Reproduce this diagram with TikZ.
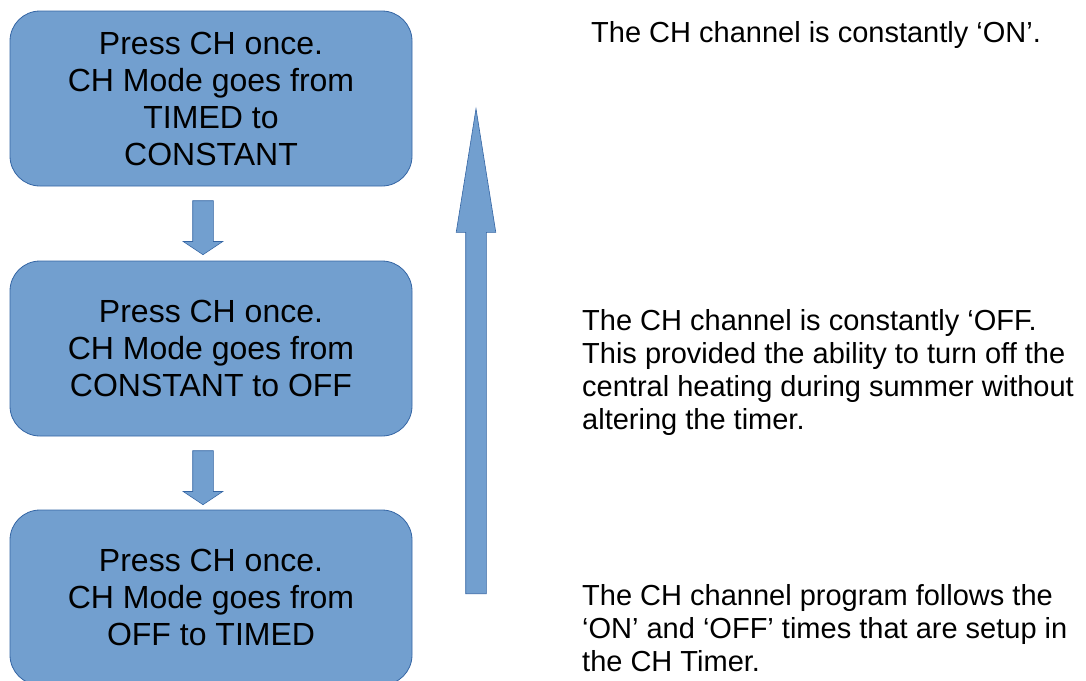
\documentclass[tikz,border=0pt]{standalone}
\usepackage{fontspec}
\setmainfont{Liberation Sans}
\usetikzlibrary{shapes.arrows}
\definecolor{modeFill}{HTML}{729FCF}
\definecolor{modeLine}{HTML}{3465A4}

\begin{document}
\begin{tikzpicture}[x = 1pt, y = -1pt]
\tikzstyle{modeStyle} = [shape = rectangle, rounded corners = 30pt, draw = modeLine, fill = modeFill, line width = 0.8pt, minimum width = 402pt, minimum height = 175pt, align = center, font = \fontsize{32}{37}\selectfont]
\tikzstyle{arrowStyle} = [shape = single arrow, draw = modeLine, fill = modeFill, line width = 0.6pt, inner sep = 0pt, inner ysep = 10pt, minimum width = 0pt, single arrow head extend = 9.5pt, anchor = tail]
\tikzstyle{noteStyle} = [anchor = base west, align = left, inner sep = 0pt, font = \fontsize{29}{33}\selectfont]
\useasboundingbox (0, 0) rectangle (1086, 680);
\node[style = modeStyle] (m0) at (211, 98.5) {Press CH once.\\CH Mode goes from\\TIMED to\\CONSTANT};
\node[style = modeStyle] (m1) at (211, 348.5) {Press CH once.\\CH Mode goes from\\CONSTANT to OFF};
\node[style = modeStyle] (m2) at (211, 597.5) {Press CH once.\\CH Mode goes from\\OFF to TIMED};
\node[style = arrowStyle, rotate = -90, minimum height = 54pt, single arrow tip angle = 112.6] (a0) at ([xshift = -8pt, yshift = -14pt]m0.south) {};
\node[style = arrowStyle, rotate = -90, minimum height = 54pt, single arrow tip angle = 112.6] (a1) at ([xshift = -8pt, yshift = -14pt]m1.south) {};
\node[style = arrowStyle, rotate = 90, minimum height = 485pt, single arrow tip angle = 18.2] (back) at (476, 594) {};
\node[style = noteStyle] (n0) at (591, 42) {The CH channel is constantly ‘ON’.};
\node[style = noteStyle] (n1) at (582, 429) {The CH channel is constantly ‘OFF.\\This provided the ability to turn off the\\central heating during summer without\\altering the timer.};
\node[style = noteStyle] (n2) at (582, 671) {The CH channel program follows the\\‘ON’ and ‘OFF’ times that are setup in\\the CH Timer.};
\end{tikzpicture}
\end{document}
